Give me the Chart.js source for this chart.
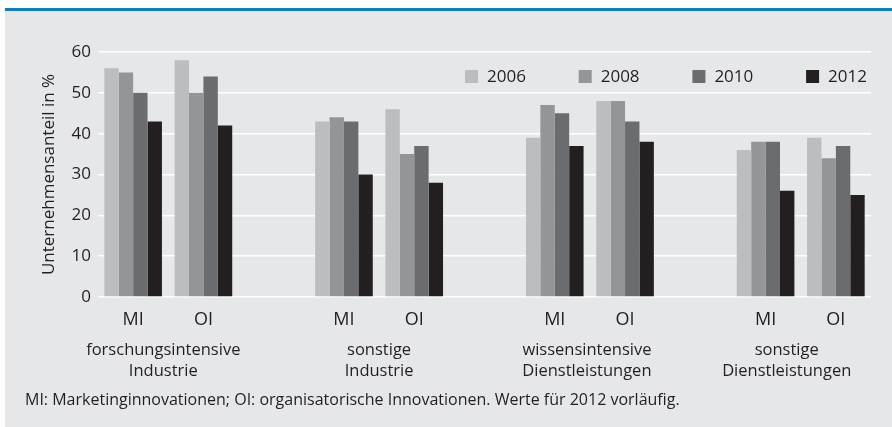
<!DOCTYPE html>
<html>
<head>
<meta charset="utf-8">
<script src="https://cdn.jsdelivr.net/npm/chart.js@4.4.1/dist/chart.umd.min.js"></script>
<style>
    html, body { margin: 0; padding: 0; background: #fff; }
    .panel { position: absolute; left: 5px; top: 8px; width: 887px; height: 416px; background: #e6e7e9; border-top: 3px solid #0a7fc6; }
    #chart { position: absolute; left: 0; top: 0; }
    .note { position: absolute; left: 25px; top: 388px; font: 16px/22px "Open Sans", sans-serif; color: #231f20; white-space: nowrap; }
</style>
</head>
<body>
<div class="panel"></div>
<canvas id="chart" width="892" height="427"></canvas>
<div class="note">MI: Marketinginnovationen; OI: organisatorische Innovationen. Werte für 2012 vorläufig.</div>
<script>
// Data
const categories = ['MI', 'OI', '', 'MI', 'OI', '', 'MI', 'OI', '', 'MI', 'OI'];
const groupLabels = [
    ['forschungsintensive', 'Industrie'],
    ['sonstige', 'Industrie'],
    ['wissensintensive', 'Dienstleistungen'],
    ['sonstige', 'Dienstleistungen']
];
const years = ['2006', '2008', '2010', '2012'];
const values2006 = [56, 58, null, 43, 46, null, 39, 48, null, 36, 39];
const values2008 = [55, 50, null, 44, 35, null, 47, 48, null, 38, 34];
const values2010 = [50, 54, null, 43, 37, null, 45, 43, null, 38, 37];
const values2012 = [43, 42, null, 30, 28, null, 37, 38, null, 26, 25];
const yTicks = [0, 10, 20, 30, 40, 50, 60];

const colors = ['#bcbdc0', '#949598', '#6b6c70', '#231f20'];
const textColor = '#231f20';
const fontFamily = '"Open Sans", sans-serif';
// small horizontal nudges of the sector names, as in the original layout
const groupShift = [-5, 0, -3, -14];

// legend drawn inside the plot, top right
const legendPlugin = {
    id: 'innerLegend',
    afterDraw(chart) {
        const ctx = chart.ctx;
        ctx.save();
        ctx.font = '17px ' + fontFamily;
        ctx.textBaseline = 'middle';
        chart.data.datasets.forEach((ds, i) => {
            const x = 465 + i * 113.7;
            ctx.fillStyle = ds.backgroundColor;
            ctx.fillRect(x, 70, 13, 13);
            ctx.fillStyle = textColor;
            ctx.fillText(ds.label, x + 22, 77);
        });
        ctx.restore();
    }
};

// sector names under each MI/OI pair
const groupPlugin = {
    id: 'groupLabels',
    afterDraw(chart) {
        const ctx = chart.ctx;
        const xScale = chart.scales.x;
        ctx.save();
        ctx.font = '16.5px ' + fontFamily;
        ctx.fillStyle = textColor;
        ctx.textAlign = 'center';
        ctx.textBaseline = 'alphabetic';
        groupLabels.forEach((lines, i) => {
            const x = (xScale.getPixelForValue(i * 3) + xScale.getPixelForValue(i * 3 + 1)) / 2;
            lines.forEach((line, j) => {
                ctx.fillText(line, x + groupShift[i], 355 + j * 21);
            });
        });
        ctx.restore();
    }
};

new Chart(document.getElementById('chart'), {
    type: 'bar',
    data: {
        labels: categories,
        datasets: [
            { label: years[0], data: values2006, backgroundColor: colors[0] },
            { label: years[1], data: values2008, backgroundColor: colors[1] },
            { label: years[2], data: values2010, backgroundColor: colors[2] },
            { label: years[3], data: values2012, backgroundColor: colors[3] }
        ]
    },
    options: {
        responsive: false,
        animation: false,
        devicePixelRatio: 1,
        layout: { padding: { left: 0, right: 21, top: 52, bottom: 0 } },
        datasets: {
            bar: { categoryPercentage: 0.82, barPercentage: 1, borderWidth: 0 }
        },
        plugins: {
            legend: { display: false },
            tooltip: { enabled: false }
        },
        scales: {
            x: {
                grid: { display: false, drawTicks: false },
                border: { display: false },
                ticks: {
                    color: textColor,
                    font: { family: fontFamily, size: 18 },
                    padding: 12,
                    maxRotation: 0,
                    autoSkip: false
                },
                afterFit(scale) { scale.height = 130; }
            },
            y: {
                min: 0,
                max: 60,
                afterBuildTicks(scale) { scale.ticks = yTicks.map(v => ({ value: v })); },
                grid: { color: '#ffffff', lineWidth: 1.5, drawTicks: false },
                border: { display: false },
                ticks: {
                    color: textColor,
                    font: { family: fontFamily, size: 17 },
                    padding: 7
                },
                title: {
                    display: true,
                    text: 'Unternehmensanteil in %',
                    color: textColor,
                    font: { family: fontFamily, size: 17 },
                    padding: { top: 39, bottom: 0 }
                },
                afterFit(scale) { scale.width = 98; }
            }
        }
    },
    plugins: [legendPlugin, groupPlugin]
});
</script>
</body>
</html>
